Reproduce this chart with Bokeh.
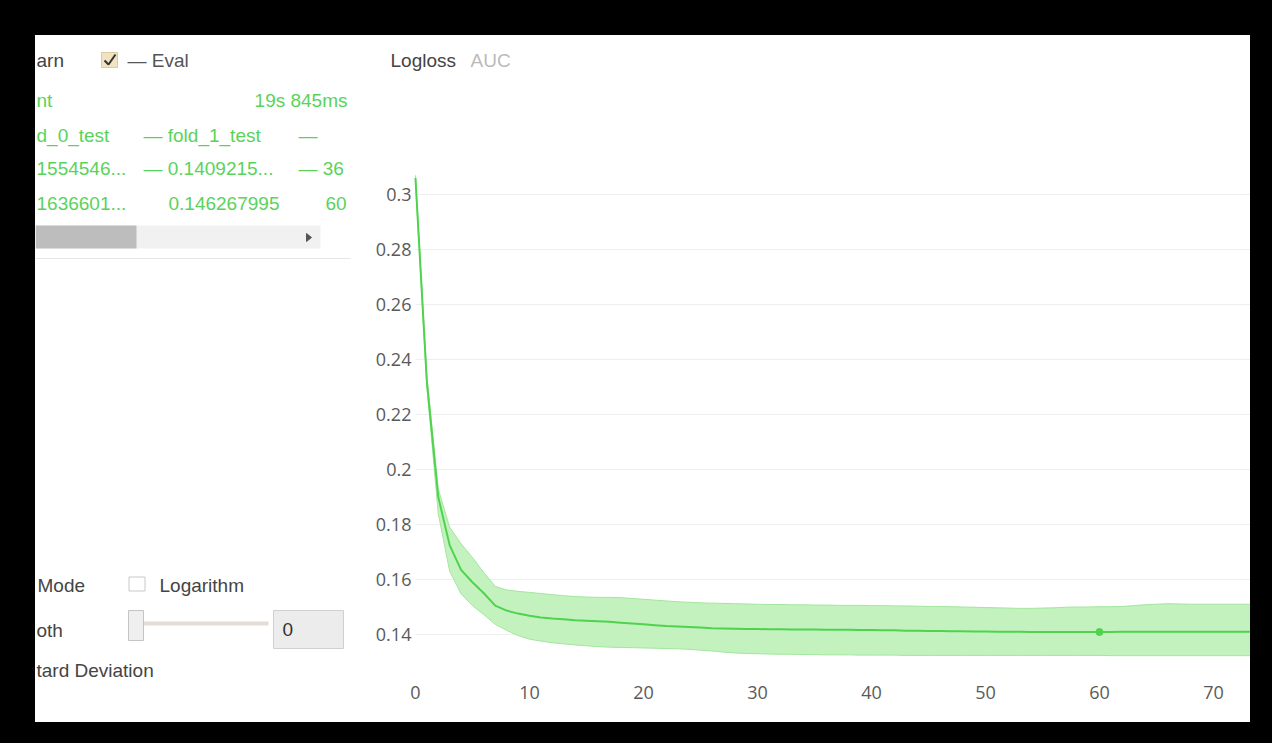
from bokeh.plotting import figure
from bokeh.layouts import row, column
from bokeh.models import Div, Range1d, FixedTicker, Label, NumeralTickFormatter
from bokeh.embed import file_html
from bokeh.resources import INLINE
from bokeh.core.properties import value

# ---------------- data ----------------
iterations = list(range(0, 75))
mean_loss = [0.306, 0.232, 0.190, 0.1725, 0.1635, 0.1590, 0.1550, 0.1505, 0.1487, 0.1476,
             0.1468, 0.1462, 0.1458, 0.1455, 0.1452, 0.1450, 0.1448, 0.1446, 0.1443, 0.1440,
             0.1437, 0.1434, 0.1431, 0.1429, 0.1427, 0.1425, 0.1423, 0.1422, 0.1421, 0.1420,
             0.1420, 0.1419, 0.1419, 0.1418, 0.1418, 0.1418, 0.1417, 0.1417, 0.1417, 0.1416,
             0.1416, 0.1415, 0.1415, 0.1414, 0.1414, 0.1413, 0.1413, 0.1412, 0.1412, 0.1411,
             0.1411, 0.1410, 0.1410, 0.1410, 0.1409, 0.1409, 0.1409, 0.1409, 0.1409, 0.1409,
             0.1409, 0.1409, 0.1410, 0.1410, 0.1410, 0.1410, 0.1410, 0.1410, 0.1410, 0.1410,
             0.1410, 0.1410, 0.1410, 0.1410, 0.1410]
upper_loss = [0.307, 0.234, 0.193, 0.179, 0.1730, 0.1680, 0.1625, 0.1575, 0.1562, 0.1557,
              0.1553, 0.1549, 0.1545, 0.1541, 0.1538, 0.1536, 0.1535, 0.1535, 0.1534, 0.1531,
              0.1528, 0.1525, 0.1522, 0.1519, 0.1517, 0.1515, 0.1514, 0.1513, 0.1512, 0.1511,
              0.1510, 0.1509, 0.1509, 0.1508, 0.1508, 0.1507, 0.1507, 0.1506, 0.1506, 0.1506,
              0.1505, 0.1505, 0.1504, 0.1504, 0.1503, 0.1502, 0.1502, 0.1501, 0.1500, 0.1499,
              0.1498, 0.1497, 0.1496, 0.1495, 0.1495, 0.1496, 0.1497, 0.1499, 0.1500, 0.1500,
              0.1501, 0.1501, 0.1502, 0.1505, 0.1508, 0.1510, 0.1512, 0.1511, 0.1510, 0.1510,
              0.1510, 0.1510, 0.1510, 0.1510, 0.1510]
lower_loss = [0.305, 0.230, 0.184, 0.163, 0.1548, 0.1505, 0.1472, 0.1437, 0.1415, 0.1396,
              0.1383, 0.1376, 0.1370, 0.1366, 0.1362, 0.1359, 0.1356, 0.1354, 0.1353, 0.1352,
              0.1351, 0.1350, 0.1349, 0.1348, 0.1346, 0.1343, 0.1340, 0.1336, 0.1333, 0.1331,
              0.1330, 0.1329, 0.1328, 0.1328, 0.1327, 0.1327, 0.1326, 0.1326, 0.1326, 0.1325,
              0.1325, 0.1325, 0.1325, 0.1324, 0.1324, 0.1324, 0.1324, 0.1324, 0.1324, 0.1324,
              0.1324, 0.1324, 0.1324, 0.1324, 0.1324, 0.1324, 0.1324, 0.1324, 0.1324, 0.1324,
              0.1324, 0.1323, 0.1323, 0.1323, 0.1323, 0.1323, 0.1323, 0.1323, 0.1323, 0.1323,
              0.1323, 0.1323, 0.1323, 0.1323, 0.1323]
best_iteration = [60]
best_value = [mean_loss[60]]

x_ticks = [0, 10, 20, 30, 40, 50, 60, 70]
y_ticks = [0.14, 0.16, 0.18, 0.2, 0.22, 0.24, 0.26, 0.28, 0.3]

metric_tabs = ["Logloss", "AUC"]
legend_items = ["arn", "— Eval"]
run_name = "nt"
elapsed = "19s 845ms"
fold_names = ["d_0_test", "— fold_1_test", "—"]
row_curr = ["1554546...", "— 0.1409215...", "— 36"]
row_best = ["1636601...", "0.146267995", "60"]
controls = ["Mode", "Logarithm", "oth", "tard Deviation"]
smooth_value = "0"

# ---------------- styles ----------------
GREEN_TXT = "#5ad35a"
LINE_GREEN = "#4fd34f"
BAND_FILL = "#c3f2bf"
BAND_EDGE = "#a3e69e"
FONT = "Liberation Sans"
FS = "19px"
H = 687

# ---------------- left panel ----------------
lp = figure(width=325, height=H, x_range=Range1d(0, 325), y_range=Range1d(H, 0),
            toolbar_location=None, output_backend="svg", min_border=0,
            x_axis_location=None, y_axis_location=None)
lp.grid.visible = False
lp.outline_line_color = None
lp.background_fill_color = "white"
lp.border_fill_color = "white"

def txt(xs, ys, texts, color, align="left"):
    lp.text(x=xs, y=ys, text=texts, text_align=align, text_baseline="middle",
            text_font=value(FONT), text_font_size=FS, text_color=color)

# legend header
txt([1], [25], [legend_items[0]], "#444")
lp.rect(x=[74], y=[24.5], width=16, height=15, fill_color="#f1e3c2", line_color="#dccb9f")
lp.line(x=[69, 73, 80], y=[25, 29, 19], line_color="#333", line_width=2)
txt([92], [25], [legend_items[1]], "#555")

# table
txt([1], [65], [run_name], GREEN_TXT)
txt([312], [65], [elapsed], GREEN_TXT, "right")
txt([1], [100], [fold_names[0]], GREEN_TXT)
txt([108, 263], [100, 100], fold_names[1:], GREEN_TXT)
txt([1], [133], [row_curr[0]], GREEN_TXT)
txt([108, 263], [133, 133], row_curr[1:], GREEN_TXT)
txt([1], [168], [row_best[0]], GREEN_TXT)
txt([133, 290], [168, 168], row_best[1:], GREEN_TXT)

# scrollbar
lp.quad(left=[0], right=[285], top=[190], bottom=[213], fill_color="#f1f1f1", line_color=None)
lp.quad(left=[0], right=[101], top=[190], bottom=[213], fill_color="#bdbdbd", line_color=None)
lp.patch(x=[271, 271, 276], y=[198, 206, 202], fill_color="#555", line_color="#555")
lp.line(x=[0, 315], y=[223, 223], line_color="#e6e6e6", line_width=1)

# controls
txt([2], [550], [controls[0]], "#444")
lp.rect(x=[101.5], y=[548.5], width=16, height=14, fill_color="white", line_color="#c8c8c8")
txt([124], [550], [controls[1]], "#444")
txt([1], [595], [controls[2]], "#444")
lp.quad(left=[108], right=[233], top=[586], bottom=[590], fill_color="#e4dcd6", line_color=None)
lp.quad(left=[93], right=[108], top=[575], bottom=[605], fill_color="#efefef", line_color="#c5c5c5")
lp.quad(left=[238], right=[308], top=[575], bottom=[613], fill_color="#ececec", line_color="#d0d0d0")
txt([247], [594], [smooth_value], "#333")
txt([1], [635], [controls[3]], "#444")

# ---------------- chart ----------------
X_END = 73.25
p = figure(width=890, height=H, x_range=Range1d(-4.82, X_END), y_range=Range1d(0.108, 0.3578),
           toolbar_location=None, output_backend="svg", min_border=0)
p.outline_line_color = None
p.background_fill_color = "white"
p.border_fill_color = "white"
p.grid.visible = False
p.xaxis.ticker = FixedTicker(ticks=x_ticks)
p.yaxis.ticker = FixedTicker(ticks=y_ticks)
p.yaxis.formatter = NumeralTickFormatter(format="0.[00]")
p.xaxis.fixed_location = 0.127
p.yaxis.fixed_location = 0
for ax in (p.xaxis, p.yaxis):
    ax.axis_line_color = None
    ax.major_tick_line_color = None
    ax.minor_tick_line_color = None
    ax.major_tick_out = 0
    ax.major_tick_in = 0
    ax.minor_tick_out = 0
    ax.major_label_text_font = "Open Sans"
    ax.major_label_text_font_size = "18px"
    ax.major_label_text_color = "#5a5a5a"
p.xaxis.major_label_standoff = 16
p.yaxis.major_label_standoff = 4

# horizontal grid lines at the y ticks, spanning the plotted x extent
p.segment(x0=[0] * len(y_ticks), y0=y_ticks, x1=[X_END] * len(y_ticks), y1=y_ticks,
          line_color="#eeeeee", line_width=1)

p.varea(x=iterations, y1=lower_loss, y2=upper_loss, fill_color=BAND_FILL, fill_alpha=1.0)
p.line(iterations, upper_loss, line_color=BAND_EDGE, line_width=1)
p.line(iterations, lower_loss, line_color=BAND_EDGE, line_width=1)
p.line(iterations, mean_loss, line_color=LINE_GREEN, line_width=2)
p.scatter(best_iteration, best_value, size=7, fill_color=LINE_GREEN, line_color=LINE_GREEN)

p.add_layout(Label(x=30, y=H - 25, x_units="screen", y_units="screen", text=metric_tabs[0],
                   text_font=FONT, text_font_size=FS, text_color="#444444",
                   text_baseline="middle"))
p.add_layout(Label(x=110, y=H - 25, x_units="screen", y_units="screen", text=metric_tabs[1],
                   text_font=FONT, text_font_size=FS, text_color="#bbbbbb",
                   text_baseline="middle"))

# ---------------- frame ----------------
def black(w, h):
    return Div(text="", width=w, height=h, margin=0, styles={"background-color": "black"})

layout = column(black(1272, 35),
                row(black(35, H), lp, p, black(22, H), spacing=0),
                black(1272, 21), spacing=0)

open("out.html", "w").write(file_html(layout, INLINE))
